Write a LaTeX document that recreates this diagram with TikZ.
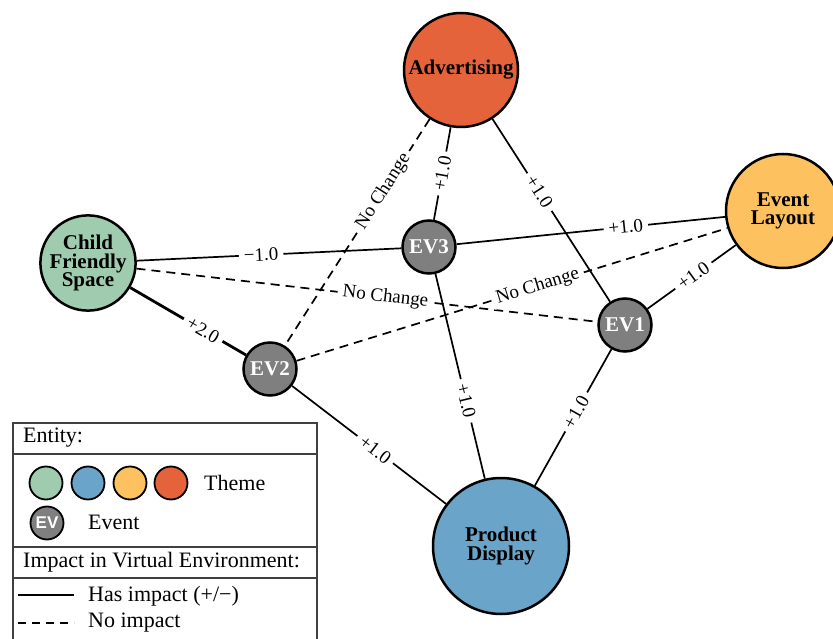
\documentclass[tikz,border=0pt]{standalone}
\usepackage{fontspec}
\setmainfont{Liberation Serif}
\newfontfamily\evsans{Liberation Sans}
\definecolor{cfsgreen}{HTML}{9FCBAE}
\definecolor{pdblue}{HTML}{6AA4C8}
\definecolor{elyellow}{HTML}{FDC25F}
\definecolor{adorange}{HTML}{E5633B}
\definecolor{evgray}{HTML}{7F7F7F}
\definecolor{legframe}{HTML}{404040}
\begin{document}
\begin{tikzpicture}[x=1pt,y=-1pt,
  theme/.style={circle,draw=black,line width=2.5pt,inner sep=0pt,align=center,
    font=\fontsize{21}{18.5}\selectfont\bfseries},
  evnode/.style={circle,draw=black,line width=2.5pt,fill=evgray,minimum size=53pt,
    inner sep=0pt,text=white,font=\fontsize{21}{21}\selectfont\bfseries},
  rel/.style={line width=1.7pt},
  relthick/.style={line width=2.8pt},
  norel/.style={line width=1.7pt,dash pattern=on 9pt off 6pt},
  lbl/.style={fill=white,inner xsep=5pt,inner ysep=1pt,sloped,font=\fontsize{19}{19}\selectfont},
  legtext/.style={anchor=west,inner sep=0pt,font=\fontsize{22}{22}\selectfont},
  legcirc/.style={circle,draw=black,line width=1.8pt,minimum size=33pt,inner sep=0pt},
]
\path[use as bounding box] (0,0) rectangle (833,639);
\clip (0,0) rectangle (833,639);

% main nodes
\node[theme,fill=adorange,minimum size=114pt] (adv) at (461,70) {Advertising};
\node[theme,fill=elyellow,minimum size=114pt] (el) at (783,211) {Event\\Layout};
\node[theme,fill=cfsgreen,minimum size=94pt] (cfs) at (88,263) {Child\\Friendly\\Space};
\node[theme,fill=pdblue,minimum size=136pt] (pd) at (501,546) {Product\\Display};
\node[evnode] (ev3) at (429,247) {EV3};
\node[evnode] (ev1) at (625,325) {EV1};
\node[evnode] (ev2) at (270,369) {EV2};

% edges
\draw[rel] (adv) -- node[lbl,pos=0.5] {+1.0} (ev3);
\draw[rel] (adv) -- node[lbl,pos=0.4] {+1.0} (ev1);
\draw[norel] (adv) -- node[lbl,pos=0.32] {No Change} (ev2);
\draw[rel] (cfs) -- node[lbl,pos=0.47] {−1.0} (ev3);
\draw[norel] (cfs) -- node[lbl,pos=0.54] {No Change} (ev1);
\draw[relthick] (cfs) -- node[lbl,pos=0.63] {+2.0} (ev2);
\draw[rel] (ev3) -- node[lbl,pos=0.63] {+1.0} (el);
\draw[rel] (ev1) -- node[lbl,pos=0.52] {+1.0} (el);
\draw[norel] (ev2) -- node[lbl,pos=0.56] {No Change} (el);
\draw[rel] (ev2) -- node[lbl,pos=0.54] {+1.0} (pd);
\draw[rel] (ev3) -- node[lbl,pos=0.62] {+1.0} (pd);
\draw[rel] (ev1) -- node[lbl,pos=0.46] {+1.0} (pd);

% legend
\draw[legframe,line width=1.2pt] (13,423) rectangle (317,660);
\draw[legframe,line width=1.2pt] (13,454) -- (317,454);
\draw[legframe,line width=1.2pt] (13,547) -- (317,547);
\draw[legframe,line width=1.2pt] (13,578) -- (317,578);
\node[legtext] (lent) at (23,438) {Entity:};
\node[legcirc,fill=cfsgreen] (lc1) at (46,483) {};
\node[legcirc,fill=pdblue] (lc2) at (88,483) {};
\node[legcirc,fill=elyellow] (lc3) at (130,483) {};
\node[legcirc,fill=adorange] (lc4) at (171,483) {};
\node[legtext] (ltheme) at (204,483) {Theme};
\node[legcirc,fill=evgray,text=white,font=\evsans\fontsize{17}{17}\selectfont\bfseries] (lev) at (47,523) {EV};
\node[legtext] (levent) at (88,522) {Event};
\node[legtext] (limp) at (23,562) {Impact in Virtual Environment:};
\coordinate (sa) at (18,595);
\coordinate (sb) at (74,595);
\draw[line width=2pt] (sa) -- (sb);
\node[legtext] (lhas) at (88,596) {Has impact (+/−)};
\coordinate (da) at (18,623);
\coordinate (db) at (74,623);
\draw[line width=1.5pt,dash pattern=on 8pt off 6pt] (da) -- (db);
\node[legtext] (lno) at (88,623) {No impact};
\end{tikzpicture}
\end{document}
